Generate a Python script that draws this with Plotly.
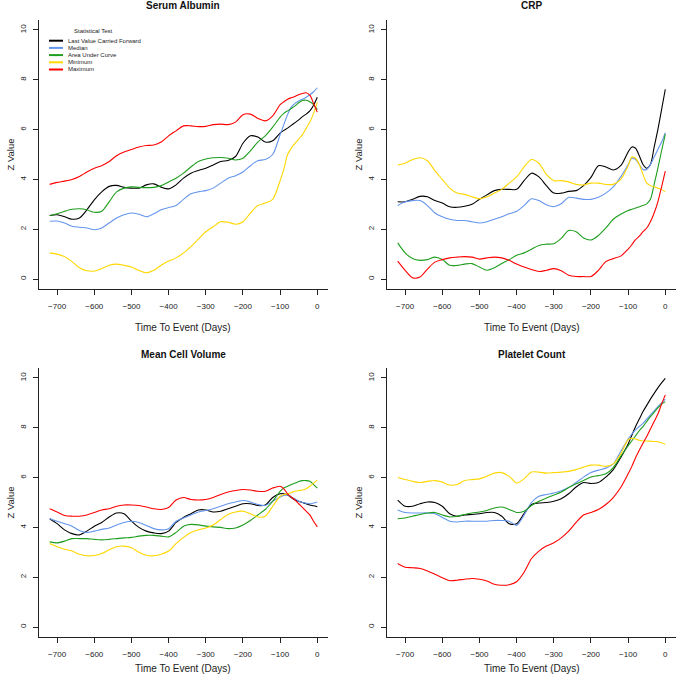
import plotly.graph_objects as go

# days before the event, shared by every panel
days = [-720, -700, -680, -660, -640, -620, -600, -580, -560, -540, -520,
        -500, -480, -460, -440, -420, -400, -380, -360, -340, -320, -300,
        -280, -260, -240, -220, -200, -180, -160, -140, -120, -100,
        -90, -80, -70, -60, -50, -40, -30, -20, -10, 0]

test_names = ["Last Value Carried Forward", "Median", "Area Under Curve",
              "Minimum", "Maximum"]
test_colours = ["#000000", "#6495ED", "#1E9E1E", "#FFD700", "#FF0000"]

# Serum Albumin
alb_lvcf = [2.55, 2.58, 2.5, 2.4, 2.45, 2.78, 3.18, 3.5, 3.72, 3.76, 3.68, 3.65, 3.65, 3.78, 3.82, 3.69,
            3.62, 3.78, 4.05, 4.25, 4.36, 4.45, 4.58, 4.72, 4.76, 4.92, 5.45, 5.75, 5.7, 5.5, 5.55,
            5.86, 5.97, 6.06, 6.17, 6.28, 6.39, 6.52, 6.62, 6.75, 6.98, 7.3]
alb_median = [2.32, 2.33, 2.25, 2.12, 2.08, 2.05, 1.98, 2.05, 2.25, 2.45, 2.58, 2.65, 2.6, 2.5, 2.62, 2.78,
              2.87, 2.95, 3.2, 3.42, 3.5, 3.55, 3.65, 3.85, 4.05, 4.15, 4.3, 4.55, 4.75, 4.8, 5.0,
              5.8, 6.2, 6.6, 6.9, 7.05, 7.15, 7.22, 7.3, 7.4, 7.52, 7.68]
alb_auc = [2.55, 2.62, 2.72, 2.8, 2.82, 2.78, 2.68, 2.72, 3.1, 3.5, 3.65, 3.7, 3.68, 3.67, 3.68, 3.75,
           3.9, 4.05, 4.25, 4.5, 4.72, 4.82, 4.87, 4.88, 4.85, 4.78, 4.85, 5.15, 5.5, 5.75, 6.1,
           6.5, 6.65, 6.75, 6.85, 6.95, 7.08, 7.17, 7.18, 7.12, 7.0, 6.8]
alb_min = [1.05, 1.0, 0.9, 0.7, 0.45, 0.33, 0.32, 0.42, 0.55, 0.6, 0.55, 0.48, 0.35, 0.25, 0.35, 0.55,
           0.72, 0.85, 1.05, 1.3, 1.6, 1.9, 2.1, 2.3, 2.28, 2.2, 2.3, 2.65, 2.95, 3.05, 3.2,
           3.95, 4.4, 5.0, 5.25, 5.45, 5.62, 5.8, 6.05, 6.3, 6.65, 7.1]
alb_max = [3.8, 3.88, 3.93, 4.0, 4.12, 4.3, 4.45, 4.55, 4.72, 4.95, 5.1, 5.2, 5.3, 5.36, 5.38, 5.5,
           5.75, 5.95, 6.15, 6.15, 6.12, 6.13, 6.2, 6.22, 6.2, 6.3, 6.6, 6.62, 6.45, 6.35, 6.55,
           7.0, 7.12, 7.22, 7.28, 7.33, 7.4, 7.45, 7.48, 7.38, 7.05, 6.7]

# CRP
crp_lvcf = [3.1, 3.1, 3.2, 3.32, 3.3, 3.15, 3.05, 2.9, 2.88, 2.92, 3.0, 3.2, 3.38, 3.55, 3.6, 3.6,
            3.6, 3.95, 4.25, 4.1, 3.75, 3.45, 3.45, 3.52, 3.55, 3.75, 4.08, 4.55, 4.5, 4.38, 4.55,
            5.1, 5.3, 5.25, 4.95, 4.6, 4.45, 4.6, 5.3, 6.0, 6.8, 7.62]
crp_median = [2.95, 3.1, 3.15, 3.15, 2.95, 2.65, 2.5, 2.4, 2.35, 2.35, 2.3, 2.25, 2.3, 2.4, 2.5, 2.62,
              2.72, 2.95, 3.22, 3.15, 2.98, 2.9, 3.02, 3.28, 3.25, 3.2, 3.2, 3.28, 3.45, 3.7, 4.1,
              4.6, 4.85, 4.8, 4.6, 4.4, 4.4, 4.6, 4.9, 5.2, 5.5, 5.88]
crp_auc = [1.45, 1.05, 0.82, 0.75, 0.78, 0.88, 0.78, 0.55, 0.55, 0.6, 0.62, 0.48, 0.35, 0.45, 0.62, 0.78,
           0.95, 1.05, 1.2, 1.35, 1.4, 1.42, 1.63, 1.95, 1.9, 1.65, 1.57, 1.75, 2.05, 2.4, 2.6,
           2.75, 2.8, 2.85, 2.9, 2.95, 3.02, 3.2, 3.8, 4.45, 5.15, 5.82]
crp_min = [4.58, 4.65, 4.8, 4.87, 4.75, 4.35, 4.0, 3.65, 3.45, 3.4, 3.3, 3.22, 3.3, 3.45, 3.6, 3.85,
           4.1, 4.5, 4.8, 4.65, 4.2, 3.95, 3.95, 3.9, 3.8, 3.78, 3.85, 3.85, 3.8, 3.8, 4.0,
           4.55, 4.9, 4.85, 4.6, 4.2, 3.85, 3.75, 3.7, 3.65, 3.6, 3.5]
crp_max = [0.72, 0.35, 0.05, 0.08, 0.4, 0.68, 0.78, 0.85, 0.88, 0.9, 0.88, 0.8, 0.85, 0.88, 0.85, 0.75,
           0.6, 0.48, 0.38, 0.3, 0.35, 0.42, 0.33, 0.15, 0.1, 0.1, 0.1, 0.35, 0.7, 0.82, 0.92,
           1.2, 1.38, 1.58, 1.72, 1.9, 2.05, 2.3, 2.65, 3.1, 3.7, 4.33]

# Mean Cell Volume
mcv_lvcf = [4.35, 4.15, 3.9, 3.75, 3.7, 3.85, 4.05, 4.2, 4.42, 4.58, 4.55, 4.25, 4.0, 3.85, 3.78, 3.75,
            3.85, 4.2, 4.4, 4.55, 4.7, 4.7, 4.62, 4.65, 4.75, 4.85, 4.95, 4.95, 4.88, 4.9, 5.2,
            5.35, 5.35, 5.3, 5.2, 5.1, 5.05, 5.0, 4.95, 4.9, 4.87, 4.83]
mcv_median = [4.35, 4.25, 4.15, 4.05, 3.88, 3.8, 3.85, 3.92, 3.98, 4.1, 4.2, 4.25, 4.2, 4.08, 3.95, 3.9,
              3.95, 4.25, 4.38, 4.5, 4.62, 4.68, 4.75, 4.85, 4.95, 5.02, 5.08, 5.02, 4.92, 4.88, 5.05,
              5.22, 5.28, 5.3, 5.22, 5.15, 5.05, 5.0, 4.97, 4.95, 4.98, 5.02]
mcv_auc = [3.42, 3.38, 3.45, 3.55, 3.55, 3.55, 3.52, 3.5, 3.52, 3.55, 3.58, 3.6, 3.65, 3.68, 3.68, 3.65,
           3.62, 3.8, 4.05, 4.12, 4.1, 4.05, 4.02, 4.0, 3.95, 3.98, 4.1, 4.28, 4.5, 4.72, 5.05,
           5.45, 5.58, 5.65, 5.72, 5.78, 5.84, 5.88, 5.88, 5.85, 5.72, 5.58]
mcv_min = [3.35, 3.22, 3.12, 3.05, 2.92, 2.86, 2.87, 2.95, 3.1, 3.22, 3.25, 3.18, 3.0, 2.88, 2.86, 2.92,
           3.05, 3.35, 3.6, 3.8, 3.9, 3.98, 4.1, 4.32, 4.52, 4.62, 4.65, 4.55, 4.42, 4.45, 4.85,
           5.25, 5.32, 5.35, 5.4, 5.45, 5.48, 5.5, 5.55, 5.65, 5.78, 5.9]
mcv_max = [4.75, 4.62, 4.48, 4.45, 4.45, 4.5, 4.6, 4.7, 4.75, 4.85, 4.9, 4.9, 4.88, 4.82, 4.75, 4.72,
           4.8, 5.1, 5.2, 5.12, 5.1, 5.12, 5.2, 5.32, 5.42, 5.48, 5.52, 5.5, 5.45, 5.45, 5.58,
           5.65, 5.55, 5.35, 5.22, 5.1, 4.95, 4.8, 4.65, 4.5, 4.25, 4.02]

# Platelet Count
plt_lvcf = [5.1, 4.85, 4.85, 4.95, 5.02, 5.0, 4.85, 4.55, 4.45, 4.5, 4.52, 4.55, 4.6, 4.6, 4.45, 4.15,
            4.15, 4.55, 4.92, 4.98, 5.0, 5.05, 5.15, 5.35, 5.62, 5.8, 5.76, 5.8, 6.02, 6.32, 6.8,
            7.35, 7.7, 8.05, 8.35, 8.65, 8.9, 9.15, 9.38, 9.6, 9.8, 9.98]
plt_median = [4.7, 4.6, 4.58, 4.58, 4.58, 4.55, 4.4, 4.25, 4.22, 4.25, 4.25, 4.25, 4.25, 4.28, 4.28, 4.25,
              4.08, 4.5, 5.0, 5.25, 5.32, 5.38, 5.47, 5.6, 5.8, 6.02, 6.2, 6.3, 6.38, 6.55, 7.05,
              7.55, 7.75, 7.92, 8.05, 8.18, 8.35, 8.52, 8.68, 8.85, 9.0, 9.15]
plt_auc = [4.35, 4.38, 4.45, 4.52, 4.58, 4.6, 4.5, 4.42, 4.45, 4.52, 4.58, 4.62, 4.68, 4.78, 4.82, 4.72,
           4.6, 4.65, 4.88, 5.05, 5.18, 5.3, 5.42, 5.6, 5.75, 5.88, 6.02, 6.08, 6.15, 6.4, 6.85,
           7.28, 7.48, 7.68, 7.88, 8.05, 8.25, 8.45, 8.62, 8.8, 8.95, 9.05]
plt_min = [6.0, 5.92, 5.85, 5.8, 5.85, 5.88, 5.82, 5.7, 5.72, 5.88, 5.92, 5.95, 6.05, 6.18, 6.2, 6.05,
           5.78, 5.95, 6.22, 6.22, 6.18, 6.2, 6.22, 6.25, 6.32, 6.42, 6.5, 6.5, 6.45, 6.55, 6.95,
           7.52, 7.58, 7.55, 7.5, 7.47, 7.47, 7.46, 7.45, 7.44, 7.4, 7.33]
plt_max = [2.55, 2.4, 2.38, 2.35, 2.25, 2.12, 1.98, 1.86, 1.88, 1.92, 1.95, 1.92, 1.85, 1.72, 1.68, 1.7,
           1.82, 2.2, 2.75, 3.05, 3.25, 3.38, 3.58, 3.85, 4.2, 4.5, 4.6, 4.72, 4.92, 5.2, 5.6,
           6.15, 6.45, 6.8, 7.1, 7.38, 7.65, 7.95, 8.25, 8.55, 8.95, 9.32]

panels = [
    ("Serum Albumin", [alb_lvcf, alb_median, alb_auc, alb_min, alb_max]),
    ("CRP", [crp_lvcf, crp_median, crp_auc, crp_min, crp_max]),
    ("Mean Cell Volume", [mcv_lvcf, mcv_median, mcv_auc, mcv_min, mcv_max]),
    ("Platelet Count", [plt_lvcf, plt_median, plt_auc, plt_min, plt_max]),
]

W, H = 677, 675
FONT = "Liberation Sans, Arial, Helvetica, sans-serif"


def px(x):
    return x / W


def py(y):
    return 1 - y / H


def label(text, x, y, size, **kw):
    return dict(text=text, x=px(x), y=py(y), xref="paper", yref="paper", showarrow=False,
                xanchor=kw.pop("xanchor", "center"), yanchor="middle",
                font=dict(family=FONT, size=size, color=kw.pop("color", "#222222")), **kw)


# plot regions in pixels: (left, right, top, bottom)
regions = [(39, 328, 20, 289), (387, 676, 20, 289),
           (39, 328, 368, 637), (387, 676, 368, 637)]

fig = go.Figure()
annotations = []
shapes = []

for i, (title, series) in enumerate(panels):
    n = i + 1
    xa = "x" if n == 1 else f"x{n}"
    ya = "y" if n == 1 else f"y{n}"
    for name, colour, vals in zip(test_names, test_colours, series):
        fig.add_trace(go.Scatter(x=days, y=vals, mode="lines", name=name,
                                 line=dict(color=colour, width=1.1, shape="spline", smoothing=0.8),
                                 xaxis=xa, yaxis=ya, showlegend=False, hoverinfo="skip"))
    l, r, t, b = regions[i]
    axis_common = dict(showline=True, linecolor="#222222", linewidth=1, ticks="outside",
                       ticklen=5, tickcolor="#222222", showgrid=False, zeroline=False,
                       tickfont=dict(family=FONT, size=8, color="#222222"))
    fig.update_layout(**{
        ("xaxis" if n == 1 else f"xaxis{n}"): dict(
            domain=[px(l), px(r)], anchor=ya, range=[-748.8, 28.8], ticklabelstandoff=4,
            tickvals=[-700, -600, -500, -400, -300, -200, -100, 0], **axis_common),
        ("yaxis" if n == 1 else f"yaxis{n}"): dict(
            domain=[py(b), py(t)], anchor=xa, range=[-0.4, 10.4],
            tickvals=[0, 2, 4, 6, 8, 10], tickangle=-90, ticklabelstandoff=4, **axis_common),
    })
    cx = (l + r) / 2
    annotations.append(label(f"<b>{title}</b>", cx, t - 14, 10, color="#111111"))
    annotations.append(label("Time To Event (Days)", cx, b + 38 if i < 2 else b + 31, 10))
    annotations.append(label("Z Value", l - 29, (t + b) / 2, 9.5, textangle=-90))

# legend drawn by hand in the first panel (R style, short keys)
annotations.append(label("Statistical Test", 93, 31, 6))
for k, (name, colour) in enumerate(zip(test_names, test_colours)):
    yk = 40.7 + k * 7.2
    shapes.append(dict(type="line", xref="paper", yref="paper", x0=px(49), x1=px(63),
                       y0=py(yk), y1=py(yk), line=dict(color=colour, width=2)))
    annotations.append(label(name, 66, yk, 6, xanchor="left"))

fig.update_layout(width=W, height=H, margin=dict(l=0, r=0, t=0, b=0),
                  paper_bgcolor="white", plot_bgcolor="white",
                  annotations=annotations, shapes=shapes, showlegend=False)

# drop the browser's default 8px page margin so the figure sits at the top-left corner
fig.write_html("out.html", config={"displayModeBar": False},
               post_script="document.body.style.margin = '0';")
